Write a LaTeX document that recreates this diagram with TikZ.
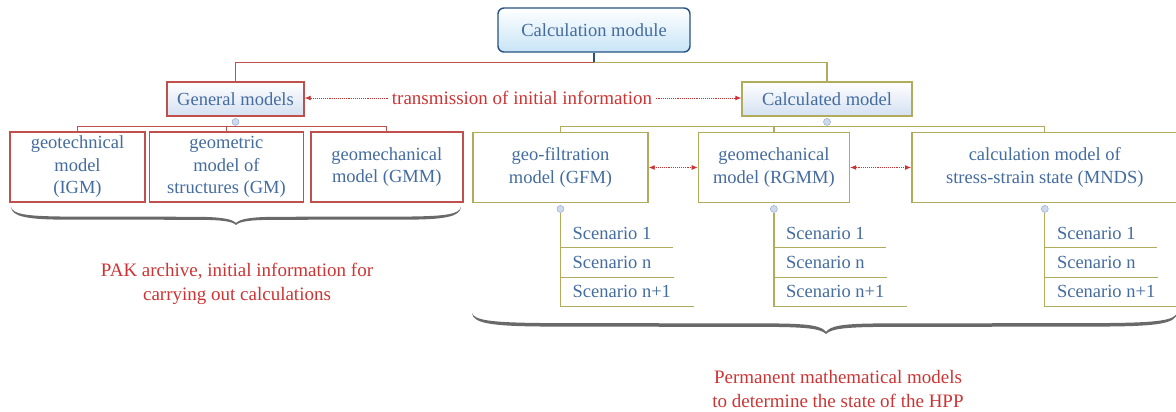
\documentclass[tikz,border=0pt]{standalone}
\usepackage{fontspec}
\setmainfont{Liberation Serif}
\usetikzlibrary{positioning,arrows.meta}

\definecolor{modred}{RGB}{192,80,77}
\definecolor{infored}{RGB}{204,52,52}
\definecolor{modolive}{RGB}{176,172,92}
\definecolor{modblue}{RGB}{68,108,160}
\definecolor{calcborder}{RGB}{38,82,130}
\definecolor{calcfill}{RGB}{200,228,246}
\definecolor{genfill}{RGB}{212,224,242}
\definecolor{knobfill}{RGB}{205,218,238}
\definecolor{knobdraw}{RGB}{150,172,205}
\definecolor{bracegray}{RGB}{105,105,105}

\tikzstyle{topbox} = [rectangle, rounded corners=6pt, minimum width=192, minimum height=44,
    draw=calcborder, line width=1.4pt,
    top color=white,
    bottom color=calcfill, text=modblue]
\tikzstyle{genbox} = [rectangle, minimum height=34, line width=1.4pt, top color=white, bottom color=genfill, text=modblue]
\tikzstyle{redbox} = [rectangle, minimum height=70, draw=modred, line width=1.4pt, fill=white, text=modblue, align=center]
\tikzstyle{olivebox} = [redbox, draw=modolive]
\tikzstyle{redline} = [modred, line width=1.3pt]
\tikzstyle{oliveline} = [modolive, line width=1.3pt]
\tikzstyle{info} = [infored, densely dotted, line width=0.9pt, -{Latex[length=6pt,width=5pt]}]
\tikzstyle{infoboth} = [info, {Latex[length=6pt,width=5pt]}-{Latex[length=6pt,width=5pt]}]
\tikzstyle{infotext} = [text=infored, align=center, font=\fontsize{19}{24}\selectfont]
\tikzstyle{knob} = [circle, inner sep=0pt, minimum size=7pt, fill=knobfill, draw=knobdraw, line width=0.5pt]
\tikzstyle{scen} = [anchor=west, inner sep=0pt, text=modblue]

\begin{document}
\begin{tikzpicture}[%
x=1pt, y=-1pt,
node distance=5pt,
font=\fontsize{18.5}{22.5}\selectfont,
]
\useasboundingbox (0,0) rectangle (1176,412);

\node[topbox] (calc) at (594,30) {Calculation module};
\node[genbox, draw=modred, minimum width=137] (genmod) at (235.5,99) {General models};
\node[genbox, draw=modolive, minimum width=170] (calcmod) at (827,99) {Calculated model};
\node[infotext] (trans) at (522,98) {transmission of initial information};
\draw [info] (trans.west) -- (trans.west -| genmod.east);
\draw [info] (trans.east) -- (trans.east -| calcmod.west);

\draw [calcborder, line width=1.2pt] (calc.south) -- ++(0,10) coordinate (cj);
\draw [redline] (cj) -| (genmod.north);
\draw [oliveline] (cj) -| (calcmod.north);

% general models
\node[redbox, minimum width=135] (geotech) at (77.5,167) {geotechnical\\model\\(IGM)};
\node[redbox, minimum width=154, right=3pt of geotech] (geometric) {geometric\\model of\\structures (GM)};
\node[redbox, minimum width=152, right=6pt of geometric] (geomech) {geomechanical\\model (GMM)};
\node[knob, below=1.5pt of genmod] (genknob) {};
\draw [redline] (geotech.north) -- ++(0,-5) coordinate (lj) -| (geomech.north);
\draw [redline] (geometric.north) -- (geometric.north |- lj);
\draw [redline] (genknob) -- (genknob |- lj);

% calculated models
\node[olivebox, minimum width=175] (gfm) at (560.5,167.5) {geo-filtration\\model (GFM)};
\node[olivebox, minimum width=151, right=49pt of gfm] (rgmm) {geomechanical\\model (RGMM)};
\node[olivebox, minimum width=266, right=61pt of rgmm] (mnds) {calculation model of\\stress-strain state (MNDS)};
\node[knob, below=1.5pt of calcmod] (calcknob) {};
\draw [oliveline] (gfm.north) -- ++(0,-5) coordinate (rj) -| (mnds.north);
\draw [oliveline] (rgmm.north) -- (rgmm.north |- rj);
\draw [oliveline] (calcknob) -- (calcknob |- rj);
\draw [infoboth] (gfm) -- (rgmm);
\draw [infoboth] (rgmm) -- (mnds);

% scenarios
\foreach \m in {gfm,rgmm,mnds}{
  \node[knob, below=2pt of \m] (\m-knob) {};
  \draw [oliveline] (\m-knob) -- ([yshift=-103pt]\m.south) -- ++(133,0);
  \draw [oliveline] ([yshift=-44pt]\m.south) -- ++(112,0);
  \draw [oliveline] ([yshift=-74pt]\m.south) -- ++(113,0);
  \node[scen] (\m-s1) at ([xshift=12pt,yshift=-30pt]\m.south) {Scenario 1};
  \node[scen] (\m-sn) at ([xshift=12pt,yshift=-59pt]\m.south) {Scenario n};
  \node[scen] (\m-sn1) at ([xshift=12pt,yshift=-88pt]\m.south) {Scenario n+1};
}

% braces
\fill[bracegray] (11,207) .. controls (13,214) and (25,216) .. (60,216.5) -- (200,216.8)
  .. controls (222,217.2) and (232,219) .. (236,223) .. controls (240,219) and (250,217.2) .. (272,216.8)
  -- (412,216.5) .. controls (447,216) and (459,214) .. (461,207)
  .. controls (460,216) and (447,219.3) .. (412,219.6) -- (272,219.8)
  .. controls (252,220) and (240,221) .. (236,225) .. controls (232,221) and (220,220) .. (200,219.8)
  -- (60,219.6) .. controls (25,219.3) and (12,216) .. (11,207) -- cycle;
\fill[bracegray] (472,313) .. controls (474,320) and (490,322.5) .. (540,323) -- (780,323.5)
  .. controls (810,324) and (822,326) .. (826,332) .. controls (830,326) and (842,324) .. (872,323.5)
  -- (1110,323) .. controls (1160,322.5) and (1174,320) .. (1177,313)
  .. controls (1176,323) and (1160,326) .. (1110,326.5) -- (872,327)
  .. controls (844,327.5) and (831,329) .. (826,334) .. controls (821,329) and (808,327.5) .. (780,327)
  -- (540,326.5) .. controls (490,326) and (473,323) .. (472,313) -- cycle;

\node[infotext] (pak) at (237,284) {PAK archive, initial information for\\carrying out calculations};
\node[infotext] (perm) at (838,389) {Permanent mathematical models\\to determine the state of the HPP};

\end{tikzpicture}
\end{document}
